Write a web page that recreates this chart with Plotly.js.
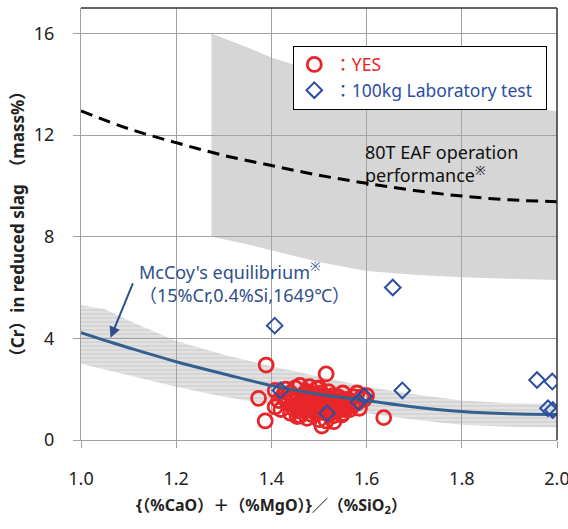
<!DOCTYPE html>
<html>
<head>
<meta charset="utf-8">
<script src="https://cdn.plot.ly/plotly-3.0.1.min.js"></script>
<style>html,body{margin:0;padding:0;background:#fff;}#chart{width:568px;height:529px;}</style>
</head>
<body>
<div id="chart"></div>
<script>
// 80T EAF operation performance band
const eafBandX = [1.274, 1.35, 1.4, 1.5, 1.6, 1.7, 1.8, 1.9, 2.0];
const eafBandTop = [16.0, 15.45, 15.05, 14.45, 13.95, 13.55, 13.3, 13.1, 12.95];
const eafBandBottom = [8.0, 7.7, 7.45, 7.0, 6.65, 6.5, 6.4, 6.35, 6.3];
// 80T EAF dashed trend
const eafLineX = [1.0, 1.1, 1.2, 1.3, 1.4, 1.5, 1.6, 1.7, 1.8, 1.9, 2.0];
const eafLineY = [12.95, 12.25, 11.7, 11.2, 10.8, 10.42, 10.1, 9.82, 9.6, 9.45, 9.38];
// McCoy's equilibrium band and curve
const mccoyX = [1.0, 1.05, 1.1, 1.2, 1.3, 1.4, 1.5, 1.6, 1.7, 1.8, 1.9, 2.0];
const mccoyTop = [5.3, 5.15, 4.7, 3.9, 3.35, 2.9, 2.5, 2.1, 1.8, 1.55, 1.45, 1.42];
const mccoyBottom = [3.0, 2.78, 2.55, 2.1, 1.7, 1.4, 1.2, 1.05, 0.8, 0.6, 0.52, 0.5];
const mccoyCurve = [4.22, 3.92, 3.63, 3.08, 2.6, 2.14, 1.8, 1.55, 1.3, 1.12, 1.03, 1.0];
// YES (red circles)
const yesX = [1.389, 1.515, 1.373, 1.387, 1.636, 1.506,
  1.408, 1.415, 1.408, 1.425, 1.43, 1.42, 1.435, 1.44, 1.445, 1.45, 1.455,
  1.46, 1.465, 1.47, 1.47, 1.475, 1.48, 1.48, 1.485, 1.49, 1.49, 1.495, 1.5, 1.5, 1.505,
  1.51, 1.51, 1.515, 1.52, 1.52, 1.525, 1.53, 1.53, 1.535, 1.54, 1.54, 1.545, 1.55, 1.55,
  1.555, 1.56, 1.46, 1.455, 1.475, 1.454, 1.531, 1.548, 1.5, 1.515,
  1.565, 1.573, 1.58, 1.59, 1.585, 1.595, 1.496, 1.48, 1.46,
  1.445, 1.45, 1.465, 1.47, 1.475, 1.485, 1.485, 1.49, 1.495, 1.5, 1.5, 1.505, 1.51, 1.515,
  1.52, 1.525, 1.53, 1.535, 1.54, 1.545, 1.55, 1.555, 1.56, 1.565, 1.57, 1.43, 1.44, 1.58, 1.6,
  1.462, 1.478, 1.492, 1.508, 1.522, 1.538, 1.552, 1.468, 1.482, 1.498, 1.512, 1.528, 1.542, 1.558];
const yesY = [2.95, 2.6, 1.64, 0.75, 0.88, 0.55,
  1.95, 1.55, 1.3, 1.75, 2.0, 1.2, 1.45, 1.85, 1.25, 2.05, 1.6,
  1.4, 1.75, 1.15, 1.55, 1.9, 1.3, 1.65, 1.0, 1.45, 1.8, 1.2, 1.6, 2.05, 1.35,
  1.75, 1.1, 1.5, 1.25, 1.9, 1.6, 1.4, 0.95, 1.15, 1.7, 1.3, 1.5, 1.05, 1.85,
  1.35, 1.6, 0.95, 1.15, 0.85, 0.92, 0.72, 0.98, 0.8, 0.75,
  1.2, 1.7, 1.45, 1.7, 1.25, 1.6, 2.03, 2.1, 2.15,
  1.65, 1.35, 1.25, 1.85, 1.45, 1.55, 1.75, 1.1, 1.35, 1.25, 1.45, 1.85, 1.4, 1.2,
  1.65, 1.05, 1.75, 1.55, 1.15, 1.35, 1.6, 1.2, 1.4, 1.55, 1.35, 1.6, 1.05, 1.85, 1.75,
  1.3, 1.2, 1.55, 1.3, 1.45, 1.25, 1.45, 1.6, 1.4, 1.1, 1.6, 1.2, 1.5, 1.3];
// 100kg Laboratory test (blue diamonds)
const labX = [1.407, 1.419, 1.517, 1.583, 1.595, 1.655, 1.675, 1.958, 1.990, 1.981, 1.991];
const labY = [4.5, 1.95, 1.05, 1.5, 1.72, 6.0, 1.95, 2.36, 2.3, 1.25, 1.18];
// axis ticks
const xTicks = [1.0, 1.2, 1.4, 1.6, 1.8, 2.0];
const xTickText = ['1.0', '1.2', '1.4', '1.6', '1.8', '2.0'];
const yTicks = [0, 4, 8, 12, 16];
const yTickText = ['0', '4', '8', '12', '16'];

const FONT = 'Noto Sans, Noto Sans CJK JP, sans-serif';
const RED = '#e8262a';
const BLUE = '#2b4ea3';
const NAVY = '#2f4f8a';

function band(xs, top, bottom) {
  return { x: xs.concat(xs.slice().reverse()), y: top.concat(bottom.slice().reverse()) };
}
const eafPoly = band(eafBandX, eafBandTop, eafBandBottom);
const mcPoly = band(mccoyX, mccoyTop, mccoyBottom);

const traces = [
  { x: eafPoly.x, y: eafPoly.y, type: 'scatter', mode: 'lines', fill: 'toself',
    fillcolor: 'rgba(170,170,170,0.48)', line: { width: 0 }, hoverinfo: 'skip', showlegend: false },
  { x: mcPoly.x, y: mcPoly.y, type: 'scatter', mode: 'lines', fill: 'toself',
    fillcolor: 'rgba(170,170,170,0.4)',
    fillpattern: { shape: '-', bgcolor: 'rgba(170,170,170,0.35)', fgcolor: 'rgba(150,150,150,0.35)', size: 4, solidity: 0.25 },
    line: { width: 0 }, hoverinfo: 'skip', showlegend: false },
  { x: eafLineX, y: eafLineY, type: 'scatter', mode: 'lines', line: { color: '#000', width: 3, dash: '12px,7px', shape: 'spline' },
    showlegend: false },
  { x: yesX, y: yesY, type: 'scatter', mode: 'markers', name: '<span style="color:' + RED + '">：YES</span>',
    legendgroup: 'a', legendrank: 1,
    marker: { symbol: 'circle-open', size: 14, color: RED, line: { width: 2.8, color: RED } } },
  { x: mccoyX, y: mccoyCurve, type: 'scatter', mode: 'lines', line: { color: '#33618f', width: 3, shape: 'spline' },
    showlegend: false },
  { x: labX, y: labY, type: 'scatter', mode: 'markers', name: '<span style="color:' + BLUE + '">：100kg Laboratory test\u00a0\u00a0</span>',
    legendgroup: 'b', legendrank: 2,
    marker: { symbol: 'diamond-open', size: 12, color: BLUE, line: { width: 2, color: BLUE } } }
];

const layout = {
  width: 568, height: 529,
  margin: { l: 81, r: 11, t: 8, b: 89 },
  paper_bgcolor: '#fff', plot_bgcolor: '#fff',
  font: { family: FONT, size: 17, color: '#222' },
  showlegend: true,
  legend: { x: 0.446, y: 0.913, xanchor: 'left', yanchor: 'top', bgcolor: '#fff', bordercolor: '#000', borderwidth: 1,
    font: { family: FONT, size: 17.5 }, tracegroupgap: 5, traceorder: 'normal' },
  xaxis: { range: [1.0, 2.0], tickvals: xTicks, ticktext: xTickText, showgrid: true, gridcolor: '#a0a0a0', gridwidth: 1,
    zeroline: false, showline: true, linecolor: '#a0a0a0', ticks: 'outside', ticklen: 7, tickcolor: '#a0a0a0',
    ticklabelstandoff: 15, ticklabeloverflow: 'allow', tickfont: { family: FONT, size: 18, color: '#222' } },
  yaxis: { range: [0, 17], tickvals: yTicks, ticktext: yTickText, showgrid: true, gridcolor: '#a0a0a0', gridwidth: 1,
    zeroline: false, showline: true, linecolor: '#a0a0a0', ticks: 'outside', ticklen: 7, tickcolor: '#a0a0a0',
    ticklabelstandoff: 15, tickfont: { family: FONT, size: 18, color: '#222' } },
  shapes: [
    { type: 'line', xref: 'paper', yref: 'paper', x0: 0, x1: 1, y0: 1, y1: 1, line: { color: '#333', width: 1.5 } },
    { type: 'line', xref: 'paper', yref: 'paper', x0: 1, x1: 1, y0: 0, y1: 1, line: { color: '#333', width: 1.5 } }
  ],
  annotations: [
    { x: 1.592, y: 10.87, xref: 'x', yref: 'y', xanchor: 'left', yanchor: 'middle', align: 'left', showarrow: false,
      text: '80T EAF operation<br>performance<sup>※</sup>', font: { family: FONT, size: 18, color: '#111' } },
    { x: 1.118, y: 6.2, xref: 'x', yref: 'y', xanchor: 'left', yanchor: 'middle', align: 'left', showarrow: false,
      text: "McCoy's equilibrium<sup>※</sup><br>（15%Cr,0.4%Si,1649℃）", font: { family: FONT, size: 18, color: NAVY } },
    { x: 1.062, y: 4.02, xref: 'x', yref: 'y', ax: 23, ay: -56, axref: 'pixel', ayref: 'pixel', text: '', showarrow: true,
      arrowhead: 2, arrowsize: 1.1, arrowwidth: 2, arrowcolor: NAVY },
    { x: -0.134, y: 0.5, xref: 'paper', yref: 'paper', xanchor: 'center', yanchor: 'middle', textangle: -90, showarrow: false,
      text: '<b>（Cr）in reduced slag　（mass%）</b>', font: { family: FONT, size: 17, color: '#222' } },
    { x: 0.4, y: 0, xref: 'paper', yref: 'paper', yanchor: 'middle', xanchor: 'center', showarrow: false,
      text: '<b>{（%CaO）＋（%MgO）}／（%SiO<sub>2</sub>）</b>', font: { family: FONT, size: 16, color: '#222' } }
  ]
};
// x-title vertical position in paper units
layout.annotations[4].y = (440 - 506) / 432;

Plotly.newPlot('chart', traces, layout, { displayModeBar: false, staticPlot: true });
</script>
</body>
</html>
